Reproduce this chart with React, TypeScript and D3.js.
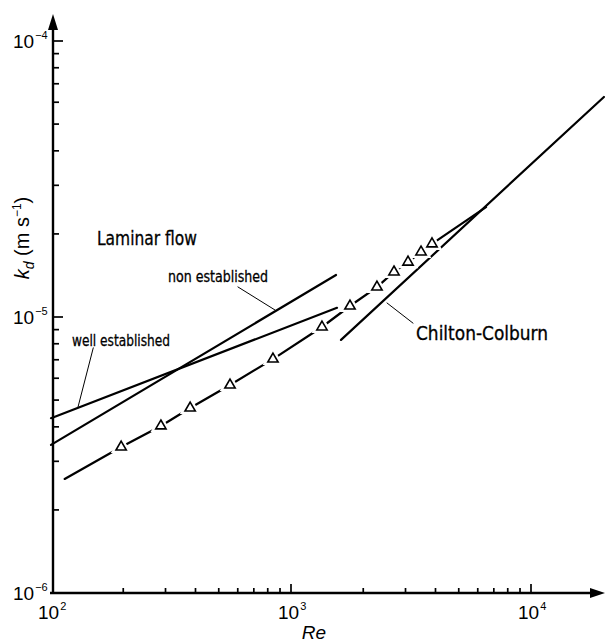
import React, { useRef, useEffect } from "react";
import * as d3 from "d3";

const WIDTH = 605;
const HEIGHT = 644;

// values (Re, k_d in m/s)
const wellRe = [100, 1555];
const wellK = [4.3e-6, 1.08e-5];
const nonRe = [100, 1540];
const nonK = [3.44e-6, 1.42e-5];
const chiltonRe = [1616, 20130];
const chiltonK = [8.26e-6, 6.27e-5];

const measRe = [196, 287, 380, 557, 841, 1346, 1761, 2281, 2686, 3073, 3482, 3868];
const measK = [3.38e-6, 4.03e-6, 4.68e-6, 5.67e-6, 7.04e-6, 9.2e-6, 1.096e-5, 1.284e-5, 1.456e-5, 1.58e-5, 1.72e-5, 1.84e-5];
// ends of the line drawn through the triangles
const fitRe = [114, 6494];
const fitK = [2.59e-6, 2.5e-5];

const xMajor = [100, 1000, 10000];
const xMajorExp = ["2", "3", "4"];
const yMajor = [1e-6, 1e-5, 1e-4];
const yMajorExp = ["-6", "-5", "-4"];

// leader lines from the labels to their curves, [Re, k]
const nonLeader = [[601, 1.285e-5], [858, 1.06e-5]];
const wellLeader = [[150, 7.73e-6], [129.6, 4.72e-6]];
const chiltonLeader = [[2512, 1.124e-5], [3224, 9.5e-6]];

const FONT = "'DejaVu Sans Condensed', 'Liberation Sans Narrow', 'DejaVu Sans', sans-serif";
const NUM_FONT = "'Liberation Sans', Arial, sans-serif";

const App = () => {
  const svgRef = useRef<SVGSVGElement>(null);

  useEffect(() => {
    const svg = d3.select(svgRef.current);
    svg.selectAll("*").remove();

    const x0 = 51;
    const y0 = 593;
    const xScale = d3.scaleLog().domain([100, 10000]).range([x0, 531]);
    const yScale = d3.scaleLog().domain([1e-6, 1e-4]).range([y0, 41]);
    const axisX = 53;

    const g = svg.append("g");

    // axes with arrows
    g.append("line").attr("x1", axisX).attr("y1", y0 + 1).attr("x2", axisX).attr("y2", 28)
      .attr("stroke", "#000").attr("stroke-width", 2.4);
    g.append("path").attr("d", `M${axisX - 5},30 L${axisX},14 L${axisX + 5},30 Z`).attr("fill", "#000");
    g.append("line").attr("x1", x0 - 1).attr("y1", y0).attr("x2", 592).attr("y2", y0)
      .attr("stroke", "#000").attr("stroke-width", 2.4);
    g.append("path").attr("d", `M590,${y0 - 5} L605,${y0} L590,${y0 + 5} Z`).attr("fill", "#000");

    const isMajor = (v: number) => Math.abs(Math.log10(v) - Math.round(Math.log10(v))) < 1e-6;

    // x ticks (pointing up)
    const xt = xScale.ticks().filter(v => v > 100);
    g.selectAll(".xt").data(xt).enter().append("line")
      .attr("x1", d => xScale(d)).attr("x2", d => xScale(d))
      .attr("y1", y0).attr("y2", d => y0 - (isMajor(d) ? 9 : 5))
      .attr("stroke", "#000").attr("stroke-width", 1.7);

    // y ticks (pointing right)
    const yt = yScale.ticks().filter(v => v > 1e-6 * 1.01);
    g.selectAll(".yt").data(yt).enter().append("line")
      .attr("x1", axisX).attr("x2", d => axisX + (isMajor(d) ? 10 : 6))
      .attr("y1", d => yScale(d)).attr("y2", d => yScale(d))
      .attr("stroke", "#000").attr("stroke-width", 1.7);

    // power-of-ten label: "10" with a raised exponent in one text element
    const powLabel = (x: number, y: number, exp: string) => {
      const t = g.append("text").attr("x", x).attr("y", y)
        .attr("font-family", NUM_FONT).attr("font-size", 19);
      t.append("tspan").text("10");
      t.append("tspan").attr("font-size", 11).attr("dy", -9).attr("dx", 1).text(exp);
      return t;
    };

    // x tick labels
    xMajor.forEach((v, i) => {
      powLabel(xScale(v) - 13, 619, xMajorExp[i]);
    });

    // y tick labels
    yMajor.forEach((v, i) => {
      powLabel(13, yScale(v) + 7, yMajorExp[i].replace("-", "\u2212"));
    });

    // axis titles
    g.append("text").attr("x", 314).attr("y", 639).attr("text-anchor", "middle")
      .attr("font-family", NUM_FONT).attr("font-style", "italic")
      .attr("font-size", 19).text("Re");

    const yTitle = g.append("text").attr("transform", "translate(29,238) rotate(-90)")
      .attr("text-anchor", "middle")
      .attr("font-family", NUM_FONT).attr("font-size", 20);
    yTitle.append("tspan").attr("font-style", "italic").text("k");
    yTitle.append("tspan").attr("font-style", "italic").attr("font-size", 14).attr("dy", 5).text("d");
    yTitle.append("tspan").attr("dy", -5).text(" (m s");
    yTitle.append("tspan").attr("font-size", 12).attr("dy", -8).text("\u22121");
    yTitle.append("tspan").attr("dy", 8).text(")");

    const line = d3.line<[number, number]>()
      .x(d => xScale(d[0]))
      .y(d => yScale(d[1]));

    const zipPts = (re: number[], k: number[]) => re.map((r, i) => [r, k[i]] as [number, number]);

    const drawLine = (pts: [number, number][], w: number) =>
      g.append("path").attr("d", line(pts)).attr("fill", "none")
        .attr("stroke", "#000").attr("stroke-width", w).attr("stroke-linecap", "round");

    drawLine(zipPts(wellRe, wellK), 2.2);
    drawLine(zipPts(nonRe, nonK), 2.2);
    drawLine(zipPts(chiltonRe, chiltonK), 2.2);

    const fitPts: [number, number][] = [
      [fitRe[0], fitK[0]],
      ...zipPts(measRe, measK),
      [fitRe[1], fitK[1]],
    ];
    drawLine(fitPts, 2.2);

    // leaders
    [nonLeader, wellLeader, chiltonLeader].forEach(l => {
      drawLine(l as [number, number][], 1);
    });

    // triangles
    const tri = d3.symbol().type(d3.symbolTriangle).size(46);
    const meas = zipPts(measRe, measK);
    g.selectAll(".halo").data(meas).enter().append("path")
      .attr("d", tri).attr("transform", d => `translate(${xScale(d[0])},${yScale(d[1])})`)
      .attr("fill", "#fff").attr("stroke", "#fff").attr("stroke-width", 6);
    g.selectAll(".tri").data(meas).enter().append("path")
      .attr("d", tri).attr("transform", d => `translate(${xScale(d[0])},${yScale(d[1])})`)
      .attr("fill", "#fff").attr("stroke", "#000").attr("stroke-width", 1.6);

    // labels
    const label = (txt: string, x: number, y: number, size: number, len: number) =>
      g.append("text").attr("x", x).attr("y", y).attr("font-family", FONT)
        .attr("font-size", size).attr("textLength", len).attr("lengthAdjust", "spacingAndGlyphs")
        .attr("stroke", "#000").attr("stroke-width", 0.3)
        .text(txt);

    label("Laminar flow", 97, 245, 20, 100);
    label("non established", 168, 282, 16, 100);
    label("well established", 72, 346, 16, 98);
    label("Chilton-Colburn", 416, 340, 20, 132);
  }, []);

  return (
    <svg
      ref={svgRef}
      width={WIDTH}
      height={HEIGHT}
      style={{ position: "absolute", left: 0, top: 0, background: "#fff" }}
    ></svg>
  );
};

export default App;
